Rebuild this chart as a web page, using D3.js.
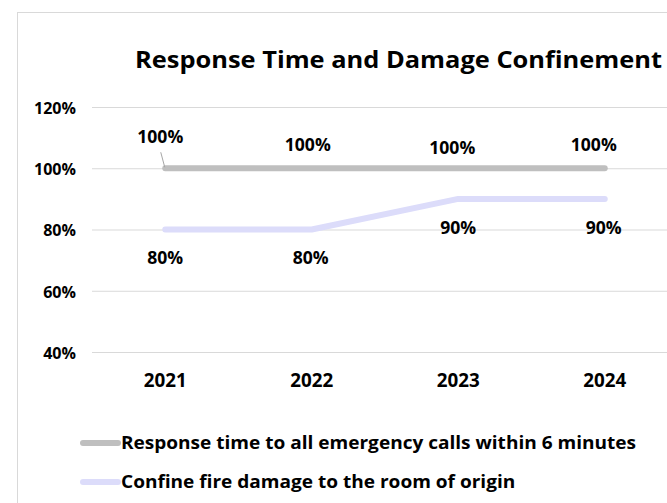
<!DOCTYPE html>
<html><head><meta charset="utf-8">
<script src="https://cdn.jsdelivr.net/npm/d3@7"></script>
<style>
html,body{margin:0;padding:0;background:#fff;}
text{font-family:"Open Sans",Lato,sans-serif;font-weight:700;fill:#000;}
</style></head>
<body><svg id="c" width="667" height="503"></svg>
<script>
const categories = ["2021","2022","2023","2024"];
const responseTime = [1.0,1.0,1.0,1.0];
const confineDamage = [0.8,0.8,0.9,0.9];
const yTicks = [0.4,0.6,0.8,1.0,1.2];
const seriesNames = ["Response time to all emergency calls within 6 minutes","Confine fire damage to the room of origin"];
const title = "Response Time and Damage Confinement";

const svg = d3.select("#c");
svg.append("rect").attr("x",17.5).attr("y",12.5).attr("width",700).attr("height",520)
  .attr("fill","#fff").attr("stroke","#d9d9d9").attr("stroke-width",1);

function stretch(sel, factor){
  sel.each(function(){
    const w = this.getComputedTextLength();
    d3.select(this).attr("textLength", w*factor).attr("lengthAdjust","spacingAndGlyphs");
  });
}
function factorFor(size, str, target){
  const t = svg.append("text").style("font-size",size+"px").text(str);
  const w = t.node().getComputedTextLength(); t.remove();
  return target / w;
}

const x = d3.scaleBand().domain(categories).range([92,678]).padding(0);
const y = d3.scaleLinear().domain([0.4,1.2]).range([352,107]);
const fmt = d3.format(".0%");

const tt = svg.append("text").attr("x",398.5).attr("y",68).attr("text-anchor","middle")
  .style("font-size","24px").text(title);
stretch(tt, factorFor(24,title,527));

const yAxis = svg.append("g").attr("transform","translate(92,0)")
  .call(d3.axisLeft(y).tickValues(yTicks).tickFormat(fmt).tickSize(-586).tickPadding(16));
yAxis.select(".domain").remove();
yAxis.selectAll("line").attr("stroke","#d9d9d9");
yAxis.attr("font-family",null).attr("font-size",null);
yAxis.selectAll("text").style("font-size","16px").attr("dy","0.4em");
stretch(yAxis.selectAll("text"), factorFor(16,"120%",42));

const xAxis = svg.append("g").attr("transform","translate(0,352)")
  .call(d3.axisBottom(x).tickSize(0).tickPadding(22));
xAxis.select(".domain").remove();
xAxis.attr("font-family",null).attr("font-size",null);
xAxis.selectAll("text").style("font-size","19px");
stretch(xAxis.selectAll("text"), factorFor(19,"2021",43));

const cx = d => x(d) + x.bandwidth()/2;
const line = d3.line().x((d,i)=>cx(categories[i])).y(d=>y(d));
const colors = ["#bfbfbf","#dcdcfa"];
[responseTime, confineDamage].forEach((s,k)=>{
  svg.append("path").datum(s).attr("d",line).attr("fill","none")
    .attr("stroke",colors[k]).attr("stroke-width",6).attr("stroke-linecap","round").attr("stroke-linejoin","round");
});

svg.append("line").attr("x1",cx("2021")-4.5).attr("y1",y(1.0)-16).attr("x2",cx("2021")-0.5).attr("y2",y(1.0)-1)
  .attr("stroke","#a6a6a6").attr("stroke-width",1);

const labF = factorFor(17.5,"100%",46);
const labOff1 = [[-5,-25],[-4,-17],[-6,-14],[-11,-17]];
responseTime.forEach((v,i)=>{
  const t = svg.append("text").attr("x",cx(categories[i])+labOff1[i][0]).attr("y",y(v)+labOff1[i][1])
    .attr("text-anchor","middle").style("font-size","17.5px").text(fmt(v));
  stretch(t, labF);
});
const labOff2 = [[0,34],[-1,34],[0,34],[-1,34]];
confineDamage.forEach((v,i)=>{
  const t = svg.append("text").attr("x",cx(categories[i])+labOff2[i][0]).attr("y",(i<2? y(v)+labOff2[i][1] : y(0.8)+4))
    .attr("text-anchor","middle").style("font-size","17.5px").text(fmt(v));
  stretch(t, labF);
});

const lgF = factorFor(18, seriesNames[0], 515);
seriesNames.forEach((n,k)=>{
  const yy = 443 + k*39;
  svg.append("line").attr("x1",83).attr("x2",118).attr("y1",yy).attr("y2",yy)
    .attr("stroke",colors[k]).attr("stroke-width",6).attr("stroke-linecap","round");
  const t = svg.append("text").attr("x",121).attr("y",yy+6).style("font-size","18px").text(n);
  stretch(t, lgF);
});
</script></body></html>
